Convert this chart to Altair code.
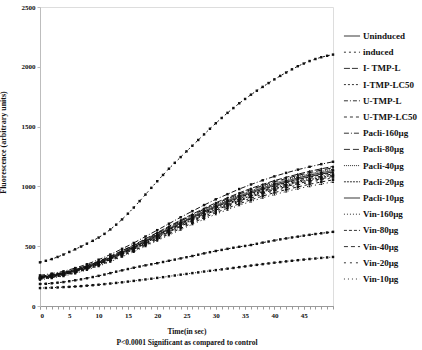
import altair as alt
import pandas as pd

# ---- data -------------------------------------------------------------
series_names = ["Uninduced", "induced", "I- TMP-L", "I-TMP-LC50", "U-TMP-L",
                "U-TMP-LC50", "Pacli-160µg", "Pacli-80µg", "Pacli-40µg",
                "Pacli-20µg", "Pacli-10µg", "Vin-160µg", "Vin-80µg",
                "Vin-40µg", "Vin-20µg", "Vin-10µg"]

t_fine = list(range(0, 51))        # 1 s steps
t_coarse = list(range(0, 51, 2))   # 2 s steps

x_label_values = [0, 5, 10, 15, 20, 25, 30, 35, 40, 45]
x_minor_values = list(range(0, 51))
y_tick_values = [0, 500, 1000, 1500, 2000, 2500]

induced = [365, 378, 392, 410, 430, 452, 474, 497, 521, 545, 572, 603, 640, 680,
           724, 772, 823, 877, 932, 988, 1043, 1096, 1148, 1197, 1245, 1293,
           1340, 1388, 1435, 1482, 1528, 1572, 1615, 1655, 1695, 1731, 1767,
           1800, 1832, 1864, 1895, 1924, 1952, 1979, 2005, 2027, 2048, 2065,
           2080, 2092, 2102]
i_tmp_lc50 = [184, 186, 190, 195, 200, 207, 215, 223, 232, 242, 252, 263, 275,
              287, 298, 309, 320, 330, 340, 349, 358, 368, 378, 388, 398, 408,
              418, 429, 440, 450, 460, 469, 478, 487, 495, 502, 510, 520, 530,
              539, 548, 557, 565, 573, 580, 588, 595, 602, 608, 614, 620]
vin_160 = [150, 151, 153, 155, 158, 160, 163, 166, 170, 174, 178, 183, 188, 193,
           198, 204, 210, 216, 222, 228, 235, 241, 248, 255, 262, 268, 275, 281,
           288, 294, 300, 306, 312, 318, 325, 331, 338, 344, 350, 356, 362, 367,
           373, 378, 383, 388, 393, 397, 402, 406, 410]

pacli_160 = [256, 271, 290, 317, 349, 387, 430, 478, 527, 581, 634, 688, 742,
             793, 844, 892, 935, 978, 1016, 1051, 1084, 1113, 1140, 1164, 1186, 1206]
i_tmp_l = [248, 262, 281, 307, 338, 374, 416, 463, 510, 562, 614, 666, 718,
           768, 816, 863, 905, 946, 983, 1017, 1048, 1076, 1102, 1126, 1147, 1167]
pacli_80 = [245, 260, 278, 304, 335, 371, 412, 458, 505, 556, 608, 659, 711,
            760, 809, 855, 896, 937, 973, 1007, 1038, 1066, 1092, 1115, 1136, 1156]
pacli_40 = [243, 257, 275, 301, 332, 367, 408, 454, 500, 551, 602, 653, 704,
            753, 801, 847, 887, 928, 964, 998, 1028, 1056, 1081, 1105, 1125, 1144]
pacli_10 = [240, 255, 273, 298, 328, 364, 404, 449, 495, 545, 596, 646, 697,
            745, 793, 838, 879, 919, 954, 988, 1018, 1045, 1071, 1094, 1114, 1133]
uninduced = [238, 252, 270, 295, 325, 360, 400, 445, 490, 540, 590, 640, 690,
             738, 785, 830, 870, 910, 945, 978, 1008, 1035, 1060, 1083, 1103, 1122]
vin_80 = [237, 251, 269, 294, 323, 358, 398, 443, 488, 537, 587, 637, 687,
          734, 781, 826, 866, 905, 940, 973, 1003, 1030, 1055, 1078, 1097, 1116]
u_tmp_l = [234, 248, 266, 291, 320, 355, 394, 438, 483, 532, 581, 630, 680,
           727, 773, 818, 857, 896, 931, 963, 993, 1019, 1044, 1067, 1086, 1105]
pacli_20 = [232, 246, 263, 288, 317, 351, 390, 434, 478, 527, 575, 624, 673,
            720, 765, 809, 848, 887, 921, 954, 983, 1009, 1034, 1056, 1075, 1094]
vin_40 = [230, 243, 261, 285, 314, 347, 386, 429, 473, 521, 569, 618, 666,
          712, 758, 801, 840, 878, 912, 944, 973, 999, 1023, 1045, 1064, 1083]
vin_20 = [227, 241, 258, 282, 310, 344, 382, 425, 468, 516, 563, 611, 659,
          705, 750, 793, 831, 869, 902, 934, 963, 988, 1012, 1034, 1053, 1071]
u_tmp_lc50 = [224, 237, 254, 277, 306, 338, 376, 418, 461, 508, 555, 602, 649,
              694, 738, 780, 818, 855, 888, 919, 948, 973, 996, 1018, 1037, 1055]
vin_10 = [220, 233, 250, 273, 301, 333, 370, 412, 453, 500, 546, 592, 638,
          683, 726, 768, 805, 842, 874, 905, 932, 957, 981, 1002, 1020, 1038]

values_by_series = {
    "Uninduced": (t_coarse, uninduced),
    "induced": (t_fine, induced),
    "I- TMP-L": (t_coarse, i_tmp_l),
    "I-TMP-LC50": (t_fine, i_tmp_lc50),
    "U-TMP-L": (t_coarse, u_tmp_l),
    "U-TMP-LC50": (t_coarse, u_tmp_lc50),
    "Pacli-160µg": (t_coarse, pacli_160),
    "Pacli-80µg": (t_coarse, pacli_80),
    "Pacli-40µg": (t_coarse, pacli_40),
    "Pacli-20µg": (t_coarse, pacli_20),
    "Pacli-10µg": (t_coarse, pacli_10),
    "Vin-160µg": (t_fine, vin_160),
    "Vin-80µg": (t_coarse, vin_80),
    "Vin-40µg": (t_coarse, vin_40),
    "Vin-20µg": (t_coarse, vin_20),
    "Vin-10µg": (t_coarse, vin_10),
}

rows = []
for name in series_names:
    ts, vs = values_by_series[name]
    for t, v in zip(ts, vs):
        rows.append({"series": name, "time": t, "value": v})
df = pd.DataFrame(rows)

# ---- styles -----------------------------------------------------------
dashes = [[1, 0], [2, 3], [6, 2], [2, 2], [4, 2, 1, 2], [3, 3], [5, 2, 1, 2],
          [6, 3], [1, 1], [2, 1], [1, 0], [1, 2], [3, 2], [4, 3], [2, 4], [1, 3]]
# marker shape for each series (None = no marker)
marker_shapes = [None, "square", "diamond", "square", "cross", "square", "square",
                 "diamond", "triangle-up", "square", "square", "square", "diamond",
                 "square", "cross", "triangle-up"]

FONT = "Liberation Serif"
INK = "#111111"
x_scale = alt.Scale(domain=[0, 50], nice=False)
y_scale = alt.Scale(domain=[0, 2500], nice=False)

x_main = alt.X(
    "time:Q",
    scale=x_scale,
    axis=alt.Axis(
        orient="bottom",
        values=x_label_values,
        grid=False,
        tickSize=3,
        tickColor="#9a9a9a",
        domainColor="#9a9a9a",
        labelFont=FONT, labelFontWeight="bold", labelFontSize=7,
        labelColor=INK, labelPadding=2,
        title=["Time(in sec)", "P<0.0001 Significant as compared to control"],
        titleFont=FONT, titleFontWeight="bold", titleFontSize=7.5,
        titleColor=INK, titleLineHeight=11,
        titleY=27, titleBaseline="alphabetic",
    ),
)
x_minor = alt.X(
    "time:Q",
    scale=x_scale,
    axis=alt.Axis(
        orient="bottom",
        values=x_minor_values,
        grid=False,
        labels=False,
        title=None,
        tickSize=3,
        tickColor="#9a9a9a",
        domainColor="#9a9a9a",
    ),
)
x_plain = alt.X("time:Q", scale=x_scale, axis=None)
y_axis = alt.Axis(
    values=y_tick_values,
    format="d",
    grid=False,
    tickSize=3,
    tickColor="#bdbdbd",
    domainColor="#bdbdbd",
    labelFont=FONT, labelFontWeight="bold", labelFontSize=7,
    labelColor=INK, labelPadding=2,
    title="Fluorescence (arbitrary units)",
    titleFont=FONT, titleFontWeight="bold", titleFontSize=8,
    titleColor=INK, titleX=-33, titleY=135,
)
y_enc = alt.Y("value:Q", scale=y_scale, axis=y_axis)

lines = alt.Chart(df).mark_line(strokeWidth=1, color=INK).encode(
    x=x_main,
    y=y_enc,
    strokeDash=alt.StrokeDash(
        "series:N",
        sort=series_names,
        scale=alt.Scale(domain=series_names, range=dashes),
        legend=alt.Legend(
            title=None,
            orient="none",
            legendX=303,
            legendY=20,
            symbolType="stroke",
            symbolSize=260,
            symbolStrokeColor="#333333",
            symbolStrokeWidth=1,
            rowPadding=2.2,
            labelFont=FONT, labelFontWeight="bold", labelFontSize=9,
            labelColor=INK, labelOffset=2,
            padding=0,
        ),
    ),
    detail="series:N",
)

layers = [lines]
shape_kinds = ["square", "diamond", "cross", "triangle-up"]
for i, shp in enumerate(shape_kinds):
    members = [n for n, s in zip(series_names, marker_shapes) if s == shp]
    layers.append(
        alt.Chart(df)
        .transform_filter(alt.FieldOneOfPredicate(field="series", oneOf=members))
        .mark_point(filled=True, size=6, color=INK, opacity=1, shape=shp)
        .encode(
            x=x_minor if i == 0 else x_plain,
            y=y_enc,
            detail="series:N",
        )
    )

chart = alt.layer(*layers).resolve_axis(x="independent").properties(
    width=293,
    height=299,
    autosize=alt.AutoSizeParams(type="none"),
    padding={"left": 40, "top": 7, "right": 89, "bottom": 44},
).configure_view(stroke=None).configure(background="white")

chart.save("out.html", embed_options={"renderer": "svg", "actions": False})
